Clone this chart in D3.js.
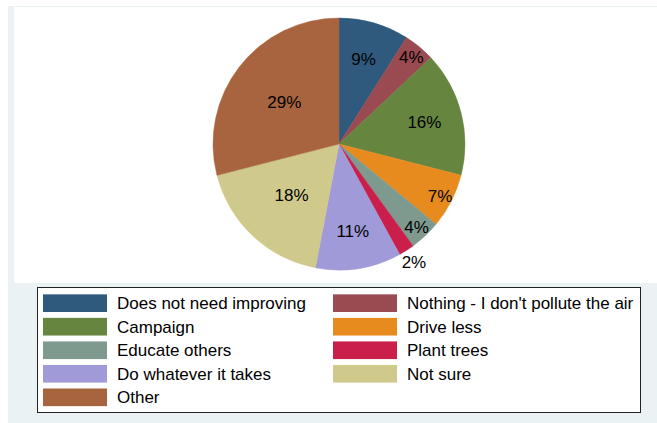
<!DOCTYPE html>
<html>
<head>
<meta charset="utf-8">
<script src="https://cdn.jsdelivr.net/npm/d3@7"></script>
<style>
  body { margin: 0; background: #fff; }
  svg { display: block; font-family: "Liberation Sans", Arial, sans-serif; }
</style>
</head>
<body>
<div class="chart"></div>
<script>
const categories = [
  'Does not need improving',
  "Nothing - I don't pollute the air",
  'Campaign',
  'Drive less',
  'Educate others',
  'Plant trees',
  'Do whatever it takes',
  'Not sure',
  'Other'
]
const shares = [9, 4, 16, 7, 4, 2, 11, 18, 29]
const palette = ['#2f5a7e', '#9a4a51', '#66853f', '#e88b1e', '#7e9a8f', '#c91f4a', '#a19ad8', '#cfc98c', '#a8643f']

const width = 657, height = 423

const svg = d3.select('.chart')
  .append('svg')
    .attr('width', width)
    .attr('height', height)

// graph region + plot region
svg.append('rect')
  .attr('x', 8).attr('y', 6)
  .attr('width', width - 8).attr('height', height - 6)
  .style('fill', '#eaf2f3')

svg.append('rect')
  .attr('x', 14).attr('y', 7)
  .attr('width', width - 14).attr('height', 276)
  .style('fill', '#fff')

const colors = d3.scaleOrdinal()
  .domain(categories)
  .range(palette)

const radius = 126
const center = [339, 144]

const pie = d3.pie().sort(null).value((d) => d.v)
const arcs = pie(categories.map((c, i) => ({ c, v: shares[i] })))
const arc = d3.arc().innerRadius(0).outerRadius(radius)

const g = svg.append('g')
  .attr('transform', `translate(${center[0]}, ${center[1]})`)

g.selectAll('path')
  .data(arcs)
  .enter()
  .append('path')
    .attr('d', arc)
    .style('fill', (d) => colors(d.data.c))
    .style('stroke', (d) => colors(d.data.c))
    .style('stroke-width', 0.5)

// small slices get their labels pushed outward
const labelFrac = (v) => v >= 17 ? 0.55 : v >= 8 ? 0.7 : v >= 3 ? 0.9 : 1.11

g.selectAll('text')
  .data(arcs)
  .enter()
  .append('text')
    .attr('transform', (d) => {
      const r = radius * labelFrac(d.data.v)
      return `translate(${d3.arc().innerRadius(r).outerRadius(r).centroid(d)})`
    })
    .attr('dy', '0.36em')
    .style('text-anchor', 'middle')
    .style('font-size', '17px')
    .text((d) => `${d.data.v}%`)

// legend
const legend = svg.append('g')

legend.append('rect')
  .attr('x', 37.5).attr('y', 287.5)
  .attr('width', 603).attr('height', 125)
  .style('fill', '#fff')
  .style('stroke', '#222')
  .style('stroke-width', 1)

const rowScale = d3.scaleBand()
  .domain(d3.range(5))
  .range([292, 408.5])
  .paddingInner(0.25)
  .paddingOuter(0.1)

const colScale = d3.scaleOrdinal()
  .domain([0, 1])
  .range([43, 333])

const items = legend.selectAll('g.item')
  .data(categories)
  .enter()
  .append('g')
    .attr('class', 'item')
    .attr('transform', (d, i) => `translate(${colScale(i % 2)}, ${rowScale(Math.floor(i / 2))})`)

items.append('rect')
  .attr('width', 64)
  .attr('height', rowScale.bandwidth())
  .style('fill', (d) => colors(d))

items.append('text')
  .attr('x', 74)
  .attr('y', rowScale.bandwidth() / 2)
  .attr('dy', '0.36em')
  .style('font-size', '17px')
  .text((d) => d)
</script>
</body>
</html>
